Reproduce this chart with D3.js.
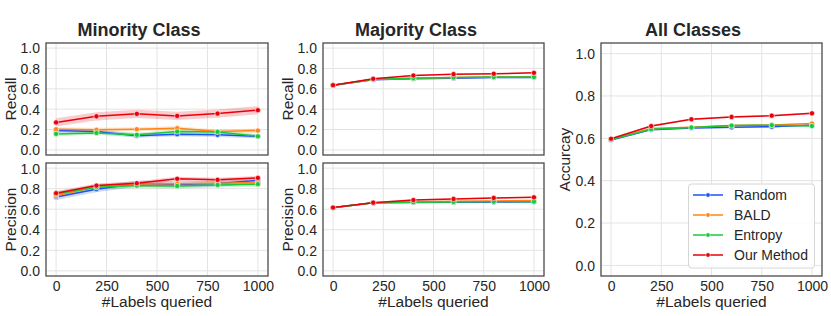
<!DOCTYPE html>
<html>
<head>
<meta charset="utf-8">
<title>Active learning curves</title>
<style>
  html, body { margin: 0; padding: 0; background: #fff; }
  svg { display: block; font-family: "Liberation Sans", Arial, Helvetica, sans-serif; }
  .title { font-size: 18px; font-weight: bold; fill: #262626; }
  .tick text { font-size: 14px; fill: #262626; }
  .lab { font-size: 15.5px; fill: #262626; }
  .leg { font-size: 14px; fill: #262626; }
</style>
</head>
<body>
<svg id="chart" width="831" height="316"></svg>
<script src="https://cdnjs.cloudflare.com/ajax/libs/d3/7.8.5/d3.min.js"></script>
<script>
// queried labels on the x axis
var labels = [0, 200, 400, 600, 800, 1000];
var methods = ['Random', 'BALD', 'Entropy', 'Our Method'];
var colors = ['#1f4fff', '#ff8418', '#1ac938', '#e8000b'];
var xTicks = [0, 250, 500, 750, 1000];
var yTicks = [0, 0.2, 0.4, 0.6, 0.8, 1.0];

// one row per method, same order as `methods`
var minorityRecall = [
  [0.19, 0.18, 0.14, 0.154, 0.148, 0.134],
  [0.203, 0.197, 0.203, 0.213, 0.18, 0.19],
  [0.157, 0.167, 0.148, 0.18, 0.177, 0.134],
  [0.27, 0.33, 0.354, 0.334, 0.357, 0.39]
];
var minorityRecallCI = [0.02, 0.02, 0.02, 0.04];

var minorityPrecision = [
  [0.72, 0.795, 0.85, 0.84, 0.85, 0.88],
  [0.73, 0.82, 0.845, 0.847, 0.853, 0.86],
  [0.75, 0.814, 0.83, 0.827, 0.837, 0.844],
  [0.756, 0.83, 0.853, 0.896, 0.886, 0.905]
];
var minorityPrecisionCI = [0.03, 0.025, 0.025, 0.02];

var majorityRecall = [
  [0.634, 0.69, 0.70, 0.705, 0.71, 0.71],
  [0.634, 0.692, 0.705, 0.712, 0.715, 0.72],
  [0.636, 0.695, 0.705, 0.711, 0.715, 0.715],
  [0.636, 0.698, 0.731, 0.744, 0.748, 0.757]
];
var majorityPrecision = [
  [0.615, 0.663, 0.666, 0.668, 0.670, 0.672],
  [0.615, 0.664, 0.672, 0.678, 0.68, 0.684],
  [0.616, 0.664, 0.668, 0.671, 0.674, 0.674],
  [0.616, 0.664, 0.69, 0.70, 0.71, 0.716]
];
var majorityCI = [0.006, 0.006, 0.006, 0.006];

var allAccuracy = [
  [0.592, 0.641, 0.649, 0.652, 0.655, 0.663],
  [0.595, 0.646, 0.652, 0.66, 0.663, 0.67],
  [0.594, 0.643, 0.651, 0.66, 0.662, 0.658],
  [0.598, 0.658, 0.69, 0.701, 0.707, 0.718]
];
var allCI = [0.004, 0.004, 0.004, 0.004];

var svg = d3.select('#chart');

function panel(opt) {
  var x = d3.scaleLinear().domain([-50, 1050]).range([opt.left, opt.right]);
  var y = d3.scaleLinear().domain([-0.05, 1.05]).range([opt.bottom, opt.top]);
  var g = svg.append('g');

  // grid
  g.append('g').selectAll('line').data(xTicks).join('line')
    .attr('x1', d => x(d)).attr('x2', d => x(d))
    .attr('y1', opt.top).attr('y2', opt.bottom)
    .attr('stroke', '#e3e3e3').attr('stroke-width', 1);
  g.append('g').selectAll('line').data(yTicks).join('line')
    .attr('y1', d => y(d)).attr('y2', d => y(d))
    .attr('x1', opt.left).attr('x2', opt.right)
    .attr('stroke', '#e3e3e3').attr('stroke-width', 1);

  // y axis
  var ya = g.append('g').attr('transform', 'translate(' + opt.left + ',0)')
    .call(d3.axisLeft(y).tickValues(yTicks).tickFormat(d3.format('.1f')).tickSize(0).tickPadding(6));
  ya.select('.domain').remove();
  ya.selectAll('text').attr('dy', '0.35em');

  if (opt.xLabels) {
    var xa = g.append('g').attr('transform', 'translate(0,' + opt.bottom + ')')
      .call(d3.axisBottom(x).tickValues(xTicks).tickFormat(d3.format('d')).tickSize(0).tickPadding(5));
    xa.select('.domain').remove();
    g.append('text').attr('class', 'lab')
      .attr('x', (opt.left + opt.right) / 2).attr('y', opt.bottom + 31)
      .attr('text-anchor', 'middle').text('#Labels queried');
  }

  g.append('text').attr('class', 'lab')
    .attr('transform', 'translate(' + opt.ylabX + ',' + (opt.top + opt.bottom) / 2 + ') rotate(-90)')
    .attr('text-anchor', 'middle').text(opt.ylabel);

  var area = d3.area().x((d, i) => x(labels[i]))
    .y0(d => y(d[0])).y1(d => y(d[1]));
  var line = d3.line().x((d, i) => x(labels[i])).y(d => y(d));

  opt.data.forEach(function (row, m) {
    var ci = opt.ci[m];
    g.append('path')
      .attr('d', area(row.map(v => [v - ci, v + ci])))
      .attr('fill', colors[m]).attr('fill-opacity', 0.2);
  });
  opt.data.forEach(function (row, m) {
    g.append('path').attr('d', line(row))
      .attr('fill', 'none').attr('stroke', colors[m]).attr('stroke-width', 1.5);
    g.append('g').selectAll('circle').data(row).join('circle')
      .attr('cx', (d, i) => x(labels[i])).attr('cy', d => y(d))
      .attr('r', 2.6).attr('fill', colors[m])
      .attr('stroke', '#fff').attr('stroke-width', 0.6);
  });

  g.append('rect').attr('x', opt.left).attr('y', opt.top)
    .attr('width', opt.right - opt.left).attr('height', opt.bottom - opt.top)
    .attr('fill', 'none').attr('stroke', '#4a4a4a').attr('stroke-width', 1.3);
}

var cols = [
  { left: 46, right: 268, ylabX: 16, title: 'Minority Class', tx: 139 },
  { left: 323, right: 544, ylabX: 293, title: 'Majority Class', tx: 416 },
  { left: 601, right: 822, ylabX: 570, title: 'All Classes', tx: 693 }
];

panel({ left: 46, right: 268, top: 43, bottom: 155, ylabX: 16, ylabel: 'Recall',
  data: minorityRecall, ci: minorityRecallCI });
panel({ left: 46, right: 268, top: 163, bottom: 276, ylabX: 16, ylabel: 'Precision',
  data: minorityPrecision, ci: minorityPrecisionCI, xLabels: true });
panel({ left: 323, right: 544, top: 43, bottom: 155, ylabX: 293, ylabel: 'Recall',
  data: majorityRecall, ci: majorityCI });
panel({ left: 323, right: 544, top: 163, bottom: 276, ylabX: 293, ylabel: 'Precision',
  data: majorityPrecision, ci: majorityCI, xLabels: true });
panel({ left: 601, right: 822, top: 43, bottom: 276, ylabX: 570, ylabel: 'Accurcay',
  data: allAccuracy, ci: allCI, xLabels: true });

cols.forEach(function (c) {
  svg.append('text').attr('class', 'title')
    .attr('x', c.tx).attr('y', 36).attr('text-anchor', 'middle').text(c.title);
});

// legend
var leg = svg.append('g');
leg.append('rect').attr('x', 688.5).attr('y', 184).attr('width', 126).attr('height', 84)
  .attr('rx', 3).attr('fill', '#fff').attr('fill-opacity', 0.85)
  .attr('stroke', '#d6d6d6').attr('stroke-width', 1);
methods.forEach(function (name, m) {
  var yy = 195 + m * 20;
  leg.append('line').attr('x1', 693).attr('x2', 723).attr('y1', yy).attr('y2', yy)
    .attr('stroke', colors[m]).attr('stroke-width', 1.5);
  leg.append('circle').attr('cx', 708).attr('cy', yy).attr('r', 2.2)
    .attr('fill', colors[m]).attr('stroke', '#fff').attr('stroke-width', 0.5);
  leg.append('text').attr('class', 'leg').attr('x', 734).attr('y', yy + 5).text(name);
});
</script>
</body>
</html>
